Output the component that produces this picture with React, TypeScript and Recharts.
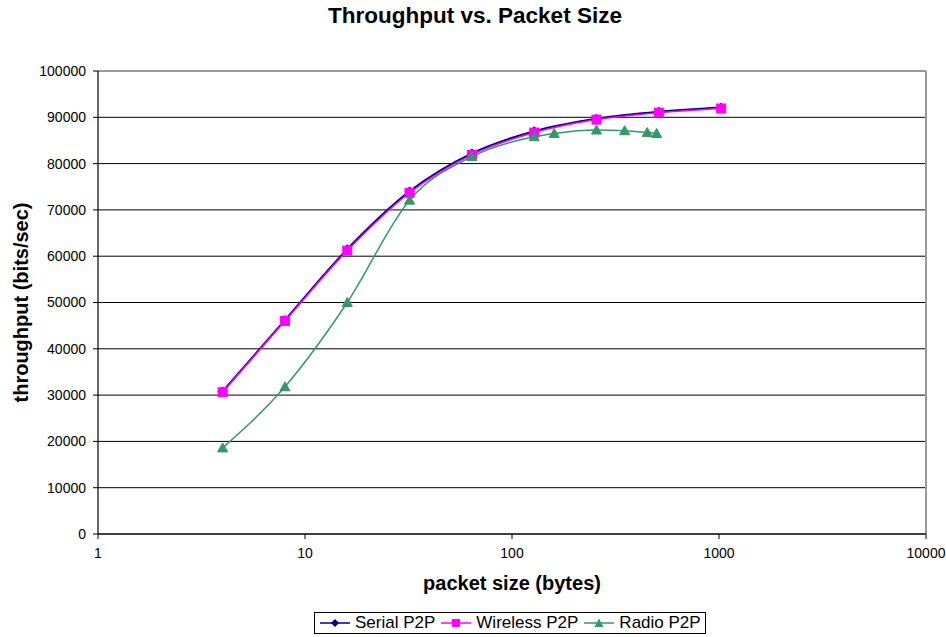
import React from 'react';
import { LineChart, Line, XAxis, YAxis, CartesianGrid, ReferenceLine } from 'recharts';

const serialP2P = [
  { x: 4, y: 30800 }, { x: 8, y: 46200 }, { x: 16, y: 61500 }, { x: 32, y: 74000 },
  { x: 64, y: 82200 }, { x: 128, y: 87000 }, { x: 256, y: 89700 }, { x: 512, y: 91200 }, { x: 1024, y: 92100 },
];
const wirelessP2P = [
  { x: 4, y: 30600 }, { x: 8, y: 46000 }, { x: 16, y: 61200 }, { x: 32, y: 73700 },
  { x: 64, y: 81900 }, { x: 128, y: 86700 }, { x: 256, y: 89500 }, { x: 512, y: 91000 }, { x: 1024, y: 91900 },
];
const radioP2P = [
  { x: 4, y: 18600 }, { x: 8, y: 31800 }, { x: 16, y: 50000 }, { x: 32, y: 72100 },
  { x: 64, y: 81500 }, { x: 128, y: 85800 }, { x: 160, y: 86500 }, { x: 256, y: 87250 },
  { x: 350, y: 87100 }, { x: 450, y: 86700 }, { x: 500, y: 86500 },
];
const xTicks = [1, 10, 100, 1000, 10000];
const yTicks = [0, 10000, 20000, 30000, 40000, 50000, 60000, 70000, 80000, 90000, 100000];

const SERIAL = '#000080';
const WIRELESS = '#FF00FF';
const RADIO = '#339966';
const FONT = '"Liberation Sans", Arial, sans-serif';

const Diamond = (props: any) => {
  const { cx, cy } = props;
  if (cx == null || cy == null) return null;
  return <path d={`M${cx},${cy - 4.5}L${cx + 4.5},${cy}L${cx},${cy + 4.5}L${cx - 4.5},${cy}Z`} fill={SERIAL} stroke={SERIAL} />;
};
const Square = (props: any) => {
  const { cx, cy } = props;
  if (cx == null || cy == null) return null;
  return <rect x={cx - 4.5} y={cy - 4.5} width={9} height={9} fill={WIRELESS} stroke={WIRELESS} />;
};
const Triangle = (props: any) => {
  const { cx, cy } = props;
  if (cx == null || cy == null) return null;
  return <path d={`M${cx},${cy - 5}L${cx + 5},${cy + 4}L${cx - 5},${cy + 4}Z`} fill={RADIO} stroke={RADIO} />;
};

const legendItems = [
  { name: 'Serial P2P', color: SERIAL, shape: 'diamond' },
  { name: 'Wireless P2P', color: WIRELESS, shape: 'square' },
  { name: 'Radio P2P', color: RADIO, shape: 'triangle' },
];

const LegendBox = () => (
  <div style={{ position: 'absolute', left: 314, top: 612, width: 392, height: 22, boxSizing: 'border-box', display: 'flex', alignItems: 'center', border: '1px solid #000', padding: '0 0 0 5px', fontFamily: FONT, fontSize: 17, color: '#000', background: '#fff', whiteSpace: 'nowrap' }}>
    {legendItems.map((it) => (
      <div key={it.name} style={{ display: 'flex', alignItems: 'center', marginRight: 6 }}>
        <svg width={30} height={12} style={{ marginRight: 5 }}>
          <line x1={0} y1={6} x2={30} y2={6} stroke={it.color} strokeWidth={1.5} />
          {it.shape === 'diamond' && <path d="M15,2L19,6L15,10L11,6Z" fill={it.color} />}
          {it.shape === 'square' && <rect x={11} y={2} width={8} height={8} fill={it.color} />}
          {it.shape === 'triangle' && <path d="M15,1.5L19.5,10L10.5,10Z" fill={it.color} />}
        </svg>
        <span>{it.name}</span>
      </div>
    ))}
  </div>
);

export default function App() {
  return (
    <div style={{ position: 'absolute', left: 0, top: 0, width: 946, height: 637, background: '#fff' }}>
      <div style={{ position: 'absolute', left: 0, top: 3, width: 950, textAlign: 'center', fontFamily: FONT, fontWeight: 'bold', fontSize: 22.5, color: '#000' }}>
        Throughput vs. Packet Size
      </div>
      <LineChart width={946} height={637} margin={{ top: 71, right: 20, bottom: 43, left: 0 }} style={{ fontFamily: FONT }}>
        <CartesianGrid vertical={false} stroke="#000" strokeWidth={1} />
        <XAxis
          dataKey="x"
          type="number"
          scale="log"
          domain={[1, 10000]}
          ticks={xTicks}
          allowDataOverflow
          height={60}
          axisLine={{ stroke: '#000', strokeWidth: 1.2 }}
          tickLine={{ stroke: '#000' }}
          tickSize={5}
          tickMargin={9}
          tick={{ fill: '#000', fontSize: 14, fontFamily: FONT }}
          label={{ value: 'packet size (bytes)', position: 'insideBottom', offset: 4, style: { fontWeight: 'bold', fontSize: 20, fill: '#000', fontFamily: FONT } }}
        />
        <YAxis
          dataKey="y"
          type="number"
          domain={[0, 100000]}
          ticks={yTicks}
          width={98}
          axisLine={{ stroke: '#000', strokeWidth: 1.2 }}
          tickLine={{ stroke: '#000' }}
          tickSize={5}
          tickMargin={7}
          tick={{ fill: '#000', fontSize: 14, fontFamily: FONT }}
          label={{ value: 'throughput (bits/sec)', angle: -90, position: 'insideLeft', offset: 21, style: { textAnchor: 'middle', fontWeight: 'bold', fontSize: 20, fill: '#000', fontFamily: FONT } }}
        />
        <ReferenceLine y={100000} stroke="#999" strokeWidth={2} />
        <ReferenceLine x={10000} stroke="#999" strokeWidth={2} />
        <Line data={serialP2P} dataKey="y" name="Serial P2P" type="monotone" stroke={SERIAL} strokeWidth={2} dot={<Diamond />} activeDot={false} isAnimationActive={false} />
        <Line data={wirelessP2P} dataKey="y" name="Wireless P2P" type="monotone" stroke={WIRELESS} strokeWidth={1.5} dot={<Square />} activeDot={false} isAnimationActive={false} />
        <Line data={radioP2P} dataKey="y" name="Radio P2P" type="monotone" stroke={RADIO} strokeWidth={1.5} dot={<Triangle />} activeDot={false} isAnimationActive={false} />
      </LineChart>
      <LegendBox />
    </div>
  );
}
